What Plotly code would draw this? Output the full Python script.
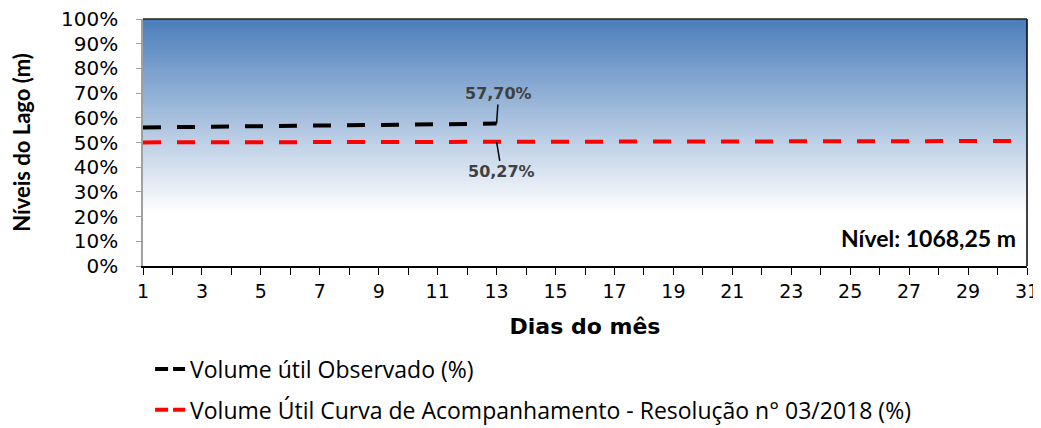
import plotly.graph_objects as go

days = list(range(1, 32))
obs_days = list(range(1, 14))
obs_values = [56.1, 56.2, 56.3, 56.4, 56.5, 56.7, 56.8, 56.9, 57.0, 57.2, 57.3, 57.5, 57.7]
curve_values = [50.05, 50.07, 50.09, 50.11, 50.13, 50.15, 50.17, 50.19, 50.21, 50.23, 50.24, 50.26, 50.27,
                50.29, 50.31, 50.33, 50.35, 50.37, 50.39, 50.41, 50.43, 50.45, 50.47, 50.49, 50.51,
                50.52, 50.54, 50.56, 50.58, 50.60, 50.62]
y_ticks = [0, 10, 20, 30, 40, 50, 60, 70, 80, 90, 100]
x_tick_labels = [1, 3, 5, 7, 9, 11, 13, 15, 17, 19, 21, 23, 25, 27, 29, 31]
label_obs = "57,70%"
label_curve = "50,27%"
nivel_text = "Nível: 1068,25 m"
name_obs = "Volume útil Observado (%)"
name_curve = "Volume Útil Curva de Acompanhamento - Resolução n° 03/2018 (%)"

fig = go.Figure()
fig.add_trace(go.Scatter(x=obs_days, y=[v / 100 for v in obs_values], mode="lines",
                         name=name_obs, showlegend=False,
                         line=dict(color="black", width=4, dash="18px,16px")))
fig.add_trace(go.Scatter(x=days, y=[v / 100 for v in curve_values], mode="lines",
                         name=name_curve, showlegend=False,
                         line=dict(color="#ff0000", width=4, dash="18px,16px")))
# legend entries (dash pattern matching the legend sample)
fig.add_trace(go.Scatter(x=[None], y=[None], mode="lines", name=name_obs, legendgroup="a",
                         line=dict(color="black", width=4, dash="13px,5px")))
fig.add_trace(go.Scatter(x=[None], y=[None], mode="lines", name=name_curve, legendgroup="b",
                         line=dict(color="#ff0000", width=4, dash="13px,5px")))

# gradient background
shapes = []
n = 120
top = (74, 125, 186)
lo = 0.21
for i in range(n):
    y0 = lo + (1 - lo) * i / n
    t = (1 - y0) / (1 - lo)
    c = tuple(int(round(top[k] + (255 - top[k]) * t)) for k in range(3))
    shapes.append(dict(type="rect", xref="paper", yref="y", x0=0, x1=1, y0=y0, y1=1,
                       fillcolor="rgb(%d,%d,%d)" % c, line=dict(width=0), layer="below"))
shapes.append(dict(type="line", xref="paper", yref="paper", x0=1, x1=1, y0=0, y1=1,
                   line=dict(color="black", width=1.5)))
shapes.append(dict(type="line", xref="paper", yref="paper", x0=0, x1=1, y0=1, y1=1,
                   line=dict(color="#222222", width=1.5)))

ann_font = dict(family="DejaVu Sans", size=16, color="#404040")
fig.update_layout(
    width=1033, height=420,
    margin=dict(l=135, r=14, t=11, b=162, autoexpand=False),
    paper_bgcolor="white", plot_bgcolor="white",
    shapes=shapes,
    xaxis=dict(range=[1, 31], tickmode="array", tickvals=x_tick_labels,
               ticktext=[str(v) for v in x_tick_labels], automargin=False,
               ticklabeloverflow="allow",
               minor=dict(tickmode="array", tickvals=days, ticks="outside", ticklen=7,
                          tickcolor="black"),
               ticks="outside", ticklen=7, tickcolor="black", showline=True,
               linecolor="black", linewidth=1.5, showgrid=False, zeroline=False,
               tickfont=dict(family="DejaVu Sans", size=19, color="black"),
               title=dict(text="<b>Dias do mês</b>", font=dict(family="DejaVu Sans", size=22, color="black"),
                          standoff=18)),
    yaxis=dict(range=[0, 1], tickmode="array", tickvals=[v / 100 for v in y_ticks],
               ticktext=["%d%%" % v for v in y_ticks], automargin=False,
               ticklabeloverflow="allow",
               ticks="outside", ticklen=5, tickcolor="#a0a0a0", showline=True,
               linecolor="#a0a0a0", linewidth=1.5, showgrid=False, zeroline=False,
               ticklabelstandoff=14,
               tickfont=dict(family="DejaVu Sans", size=20, color="black"),
               title=dict(text="<b>Níveis do Lago (m)</b>",
                          font=dict(family="Lato", size=22, color="black"), standoff=37)),
    legend=dict(x=0.008, y=-0.33, xanchor="left", yanchor="top", orientation="v",
                font=dict(family="Open Sans", size=23, color="black"), tracegroupgap=8,
                bgcolor="rgba(0,0,0,0)"),
    annotations=[
        dict(x=13, y=obs_values[-1] / 100, xref="x", yref="y", text="<b>" + label_obs + "</b>",
             showarrow=True, arrowhead=0, arrowwidth=1.5, arrowcolor="black", ax=2, ay=-30,
             font=ann_font),
        dict(x=13, y=curve_values[12] / 100, xref="x", yref="y", text="<b>" + label_curve + "</b>",
             showarrow=True, arrowhead=0, arrowwidth=1.5, arrowcolor="black", ax=5, ay=30,
             font=ann_font),
        dict(x=0.99, y=0.115, xref="paper", yref="paper", xanchor="right", yanchor="middle",
             text="<b>" + nivel_text + "</b>", showarrow=False,
             font=dict(family="Lato", size=23, color="black")),
    ],
)
fig.write_html("out.html")
